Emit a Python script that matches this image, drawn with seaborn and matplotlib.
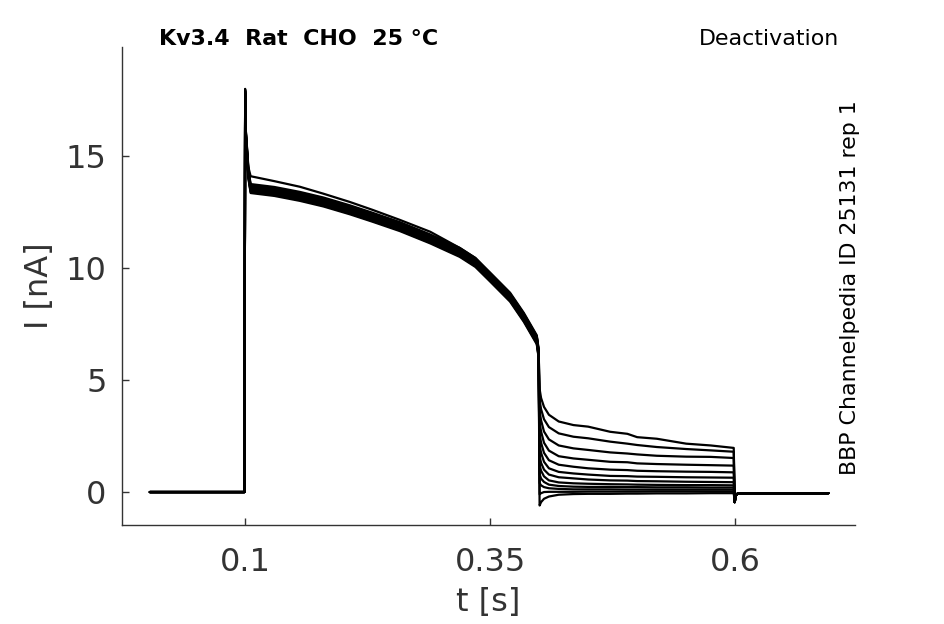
import numpy as np
import pandas as pd
import matplotlib
matplotlib.use("Agg")
import matplotlib.pyplot as plt
import seaborn as sns

# ---- data ----
# holding segment before the pulse
pre_t = [0.003, 0.0995]
pre_i = [0.0, 0.0]

# spike + main pulse, bulk of the traces
pulse_t = [0.1002, 0.1008, 0.1035, 0.1058, 0.13, 0.156, 0.18, 0.207, 0.23, 0.258,
           0.289, 0.319, 0.335, 0.35, 0.3704, 0.3844, 0.3976, 0.3995]
pulse_i = [17.8, 16.0, 14.2, 13.55, 13.42, 13.2, 12.95, 12.6, 12.27, 11.85,
           11.3, 10.7, 10.25, 9.6, 8.7, 7.8, 6.8, 6.2]
# the uppermost trace runs a bit higher during the pulse
pulse_top_i = [17.8, 16.2, 14.5, 14.1, 13.88, 13.63, 13.32, 12.95, 12.6, 12.15,
               11.62, 10.9, 10.45, 9.76, 8.85, 7.95, 6.95, 6.3]
# spread of the bundle around the bulk trace
pulse_offset = [0.0, 0.2, 0.08, -0.03, 0.15, -0.12, 0.0, -0.2, 0.1, -0.07, 0.04, -0.16]

# tail currents during the deactivation step
tail_t = [0.4005, 0.402, 0.405, 0.41, 0.42, 0.435, 0.45, 0.4725, 0.49, 0.50,
          0.52, 0.55, 0.575, 0.5985]
tail_1 = [4.6, 4.2, 3.8, 3.45, 3.15, 2.99, 2.92, 2.69, 2.60, 2.45, 2.38, 2.16, 2.08, 1.97]
tail_2 = [4.1, 3.7, 3.25, 2.9, 2.62, 2.47, 2.40, 2.25, 2.16, 2.10, 2.01, 1.92, 1.86, 1.80]
tail_3 = [3.6, 3.2, 2.7, 2.35, 2.08, 1.95, 1.88, 1.77, 1.72, 1.68, 1.62, 1.58, 1.57, 1.52]
tail_4 = [3.1, 2.7, 2.2, 1.85, 1.60, 1.50, 1.44, 1.35, 1.33, 1.28, 1.25, 1.22, 1.20, 1.18]
tail_5 = [2.6, 2.2, 1.75, 1.42, 1.22, 1.13, 1.06, 1.00, 0.98, 0.95, 0.93, 0.91, 0.90, 0.88]
tail_6 = [2.1, 1.75, 1.35, 1.06, 0.90, 0.83, 0.78, 0.72, 0.71, 0.69, 0.68, 0.66, 0.65, 0.64]
tail_7 = [1.6, 1.3, 1.0, 0.78, 0.66, 0.61, 0.56, 0.52, 0.51, 0.49, 0.48, 0.46, 0.45, 0.44]
tail_8 = [1.2, 0.95, 0.70, 0.52, 0.43, 0.39, 0.37, 0.35, 0.34, 0.33, 0.32, 0.31, 0.31, 0.30]
tail_9 = [0.8, 0.6, 0.45, 0.33, 0.27, 0.24, 0.23, 0.23, 0.22, 0.22, 0.21, 0.21, 0.20, 0.20]
tail_10 = [0.4, 0.3, 0.22, 0.17, 0.14, 0.12, 0.12, 0.12, 0.11, 0.11, 0.11, 0.11, 0.11, 0.11]
tail_11 = [-0.1, -0.05, 0.0, 0.01, 0.01, 0.01, 0.02, 0.02, 0.02, 0.02, 0.03, 0.03, 0.03, 0.03]
tail_12 = [-0.6, -0.45, -0.3, -0.2, -0.12, -0.09, -0.08, -0.08, -0.07, -0.07, -0.06, -0.06,
           -0.05, -0.05]
tails = [tail_1, tail_2, tail_3, tail_4, tail_5, tail_6,
         tail_7, tail_8, tail_9, tail_10, tail_11, tail_12]

# return to holding potential
post_t = [0.5995, 0.6005, 0.603, 0.695]
post_i = [-0.45, -0.15, -0.05, -0.05]

x_ticks = [0.1, 0.35, 0.6]
x_tick_labels = ["0.1", "0.35", "0.6"]
y_ticks = [0, 5, 10, 15]

# ---- assemble long table ----
rows = []
for k, tail in enumerate(tails):
    if k == 0:
        p = pulse_top_i
    else:
        p = [v + pulse_offset[k] for v in pulse_i]
    t = pre_t + pulse_t + tail_t + post_t
    i = pre_i + p + tail + post_i
    rows.append(pd.DataFrame({"t": t, "I": i, "trace": k}))
df = pd.concat(rows, ignore_index=True)

# ---- plot ----
sns.set_style("white")
plt.rcParams["font.family"] = ["DejaVu Sans"]

fig = plt.figure(figsize=(9.45, 6.24), dpi=100)
ax = fig.add_axes([0.129, 0.1587, 0.776, 0.766])

sns.lineplot(data=df, x="t", y="I", units="trace", estimator=None, sort=False,
             color="black", linewidth=1.6, ax=ax, legend=False)

ax.set_xlim(-0.0255, 0.7224)
ax.set_ylim(-1.47, 19.87)
ax.set_xticks(x_ticks)
ax.set_xticklabels(x_tick_labels)
ax.set_yticks(y_ticks)
ax.tick_params(direction="in", length=5, width=1, colors="#333333",
               labelsize=23, bottom=True, left=True)
ax.tick_params(axis="x", pad=16)
ax.tick_params(axis="y", pad=11)
ax.set_xlabel("t [s]", fontsize=23, color="#333333", labelpad=6)
ax.set_ylabel("I [nA]", fontsize=23, color="#333333", labelpad=8)
sns.despine(ax=ax)
for s in ["left", "bottom"]:
    ax.spines[s].set_color("#333333")
    ax.spines[s].set_linewidth(1.0)

fig.text(0.168, 0.937, "Kv3.4  Rat  CHO  25 °C", fontsize=15.9,
         fontweight="bold", color="black", ha="left", va="center")
fig.text(0.888, 0.937, "Deactivation", fontsize=15.9, color="black",
         ha="right", va="center")
fig.text(0.899, 0.539, "BBP Channelpedia ID 25131 rep 1", fontsize=15.9,
         color="black", rotation=90, ha="center", va="center")

fig.savefig("out.png", dpi=100)
